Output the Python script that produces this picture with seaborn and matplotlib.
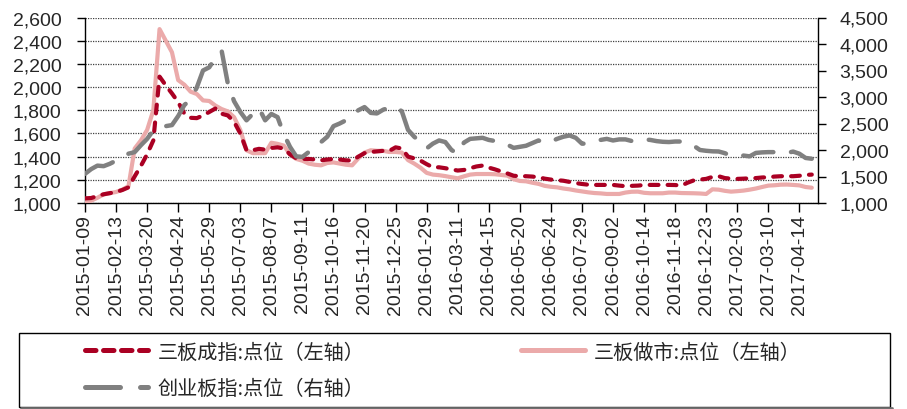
import numpy as np
import pandas as pd
import matplotlib
matplotlib.use('Agg')
import matplotlib.pyplot as plt
import seaborn as sns
from matplotlib.patches import Rectangle
from matplotlib.lines import Line2D
from matplotlib.ticker import FuncFormatter, MultipleLocator

# weekly data, one tick label every 5 points
tick_labels = ['2015-01-09', '2015-02-13', '2015-03-20', '2015-04-24', '2015-05-29',
               '2015-07-03', '2015-08-07', '2015-09-11', '2015-10-16', '2015-11-20',
               '2015-12-25', '2016-01-29', '2016-03-11', '2016-04-15', '2016-05-20',
               '2016-06-24', '2016-07-29', '2016-09-02', '2016-10-14', '2016-11-18',
               '2016-12-23', '2017-02-03', '2017-03-10', '2017-04-14']

# 三板成指 (left axis)
sanban_cz = [1040, 1043, 1060, 1075, 1085, 1095, 1112, 1135, 1230, 1320,
             1420, 1540, 2090, 2015, 1945, 1870, 1770, 1735, 1732, 1755,
             1785, 1815, 1770, 1755, 1700, 1600, 1455, 1455, 1467, 1460,
             1475, 1480, 1470, 1420, 1385, 1380, 1380, 1375, 1368, 1375,
             1380, 1375, 1368, 1366, 1400, 1430, 1440, 1445, 1450, 1450,
             1480, 1470, 1400, 1385, 1366, 1335, 1308, 1308, 1300, 1290,
             1280, 1285, 1300, 1315, 1323, 1305, 1290, 1272, 1255, 1235,
             1231, 1231, 1228, 1222, 1210, 1202, 1197, 1192, 1182, 1172,
             1164, 1158, 1156, 1156, 1156, 1156, 1150, 1145, 1148, 1150,
             1155, 1156, 1156, 1156, 1156, 1155, 1150, 1175, 1195, 1202,
             1208, 1225, 1231, 1215, 1210, 1208, 1210, 1213, 1215, 1220,
             1222, 1228, 1231, 1231, 1231, 1235, 1242, 1245]

# 三板做市 (left axis)
sanban_zs = [1005, 1020, 1045, 1075, 1085, 1095, 1115, 1145, 1470, 1540,
             1630, 1800, 2500, 2400, 2300, 2060, 2020, 1960, 1940, 1885,
             1880, 1840, 1810, 1790, 1740, 1630, 1455, 1430, 1430, 1430,
             1520, 1510, 1495, 1420, 1380, 1365, 1340, 1330, 1325, 1345,
             1350, 1340, 1330, 1325, 1385, 1435, 1455, 1450, 1450, 1440,
             1440, 1435, 1370, 1340, 1305, 1260, 1245, 1240, 1232, 1222,
             1213, 1230, 1245, 1250, 1250, 1250, 1248, 1242, 1236, 1205,
             1190, 1187, 1175, 1165, 1148, 1140, 1135, 1125, 1118, 1108,
             1100, 1092, 1086, 1083, 1078, 1078, 1078, 1090, 1097, 1098,
             1088, 1084, 1084, 1084, 1090, 1090, 1086, 1085, 1084, 1082,
             1078, 1118, 1115, 1105, 1098, 1102, 1107, 1115, 1125, 1138,
             1150, 1153, 1158, 1159, 1156, 1152, 1138, 1132]

# 创业板指 (right axis)
chuangye = [1550, 1640, 1705, 1695, 1740, 1800, 1870, 1930, 1960, 2090,
            2210, 2370, 2420, 2450, 2470, 2640, 2850, 2950, 3180, 3500,
            3560, 3740, 3870, 3250, 2920, 2720, 2560, 2680, 2790, 2560,
            2680, 2620, 2300, 2060, 1880, 1870, 1960, 2050, 2150, 2250,
            2450, 2500, 2560, 2650, 2750, 2810, 2700, 2690, 2760, 2800,
            2820, 2730, 2380, 2250, 2150, 2030, 2120, 2180, 2150, 2000,
            1930, 2140, 2210, 2220, 2230, 2190, 2170, 2150, 2100, 2040,
            2060, 2080, 2130, 2180, 2130, 2160, 2210, 2250, 2275, 2230,
            2120, 2120, 2150, 2190, 2210, 2180, 2200, 2200, 2170, 2165,
            2200, 2190, 2168, 2155, 2150, 2160, 2160, 2140, 2080, 2000,
            1985, 1975, 1972, 1940, 1890, 1877, 1895, 1880, 1945, 1955,
            1960, 1960, 1940, 1945, 1970, 1930, 1850, 1835]

labels = ['三板成指:点位（左轴）', '三板做市:点位（左轴）', '创业板指:点位（右轴）']

df = pd.DataFrame({'idx': np.arange(len(sanban_cz)),
                   'cz': sanban_cz, 'zs': sanban_zs, 'cy': chuangye})

sns.set_style('white')
plt.rcParams['font.family'] = ['Liberation Sans', 'Noto Sans CJK SC']

red = '#AA0023'
pink = '#EBAAAA'
gray = '#808080'

fig = plt.figure(figsize=(9.07, 4.10), dpi=100)
ax = fig.add_axes([85 / 907, 1 - 204 / 410, 733 / 907, 185.5 / 410])

sns.lineplot(data=df, x='idx', y='zs', ax=ax, color=pink, linewidth=3.0,
             solid_capstyle='round', zorder=3)
sns.lineplot(data=df, x='idx', y='cz', ax=ax, color=red, linewidth=3.0,
             linestyle=(0, (2.1, 2.2)), dash_capstyle='round', zorder=4)

ax.set_ylim(1000, 2600)
ax.yaxis.set_major_locator(MultipleLocator(200))
ax.set_xlim(0, 118)
ax.set_xticks(np.arange(0, len(sanban_cz), 5))
ax.set_xticklabels(tick_labels, rotation=90)
ax.set_xlabel('')
ax.set_ylabel('')
ax.yaxis.grid(True, linestyle=(0, (1, 1)), color='#404040', linewidth=0.9)
ax.xaxis.grid(False)
ax.set_axisbelow(True)
fmt = FuncFormatter(lambda v, p: f'{int(v):,}')
ax.yaxis.set_major_formatter(fmt)

ax2 = ax.twinx()
sns.lineplot(data=df, x='idx', y='cy', ax=ax2, color=gray, linewidth=3.2,
             linestyle=(0, (7.0, 4.0)), dash_capstyle='round', zorder=5)
ax2.set_ylim(1000, 4500)
ax2.yaxis.set_major_locator(MultipleLocator(500))
ax2.yaxis.set_major_formatter(fmt)
ax2.set_ylabel('')
ax2.set_xlim(0, 118)
ax2.grid(False)

for a in (ax, ax2):
    a.spines['top'].set_visible(False)
    for s in a.spines.values():
        s.set_color('black')
        s.set_linewidth(1.0)
ax.spines['right'].set_visible(False)
ax2.spines['left'].set_visible(False)
ax2.spines['bottom'].set_visible(False)

ax.tick_params(axis='x', which='major', direction='out', length=6.5, width=1,
               color='black', labelsize=14, pad=1.5, bottom=True)
ax.tick_params(axis='y', which='major', direction='out', length=6, width=1,
               color='black', labelsize=14, pad=11, left=True)
ax2.tick_params(axis='y', which='major', direction='out', length=6, width=1,
                color='black', labelsize=14, pad=9.5, right=True)

# legend box
fig.add_artist(Line2D([21 / 907, 892 / 907], [1 - 409 / 410, 1 - 409 / 410],
                      color='#707070', linewidth=2))
fig.add_artist(Rectangle((19 / 907, 1 - 408 / 410), 871 / 907, 74 / 410,
                         transform=fig.transFigure, facecolor='white',
                         edgecolor='black', linewidth=1.0))

h_red = Line2D([], [], color=red, linewidth=3.6, linestyle=(0, (2.1, 1.5)),
               dash_capstyle='round')
h_pink = Line2D([], [], color=pink, linewidth=3.6, solid_capstyle='round')
h_gray = Line2D([], [], color=gray, linewidth=3.6, linestyle=(0, (7.0, 4.0)),
                dash_capstyle='round')
# ncol=2 fills by column, so order as red, gray | pink
leg = fig.legend([h_red, h_gray, h_pink], [labels[0], labels[2], labels[1]],
                 ncol=2, loc='center left',
                 bbox_to_anchor=(85 / 907, 1 - 371 / 410),
                 frameon=False, borderpad=0, borderaxespad=0,
                 handlelength=3.15, handletextpad=0.45, columnspacing=7.8,
                 labelspacing=0.75,
                 prop={'family': ['Noto Sans CJK SC'], 'size': 14.5})

fig.savefig('out.png', dpi=100)
